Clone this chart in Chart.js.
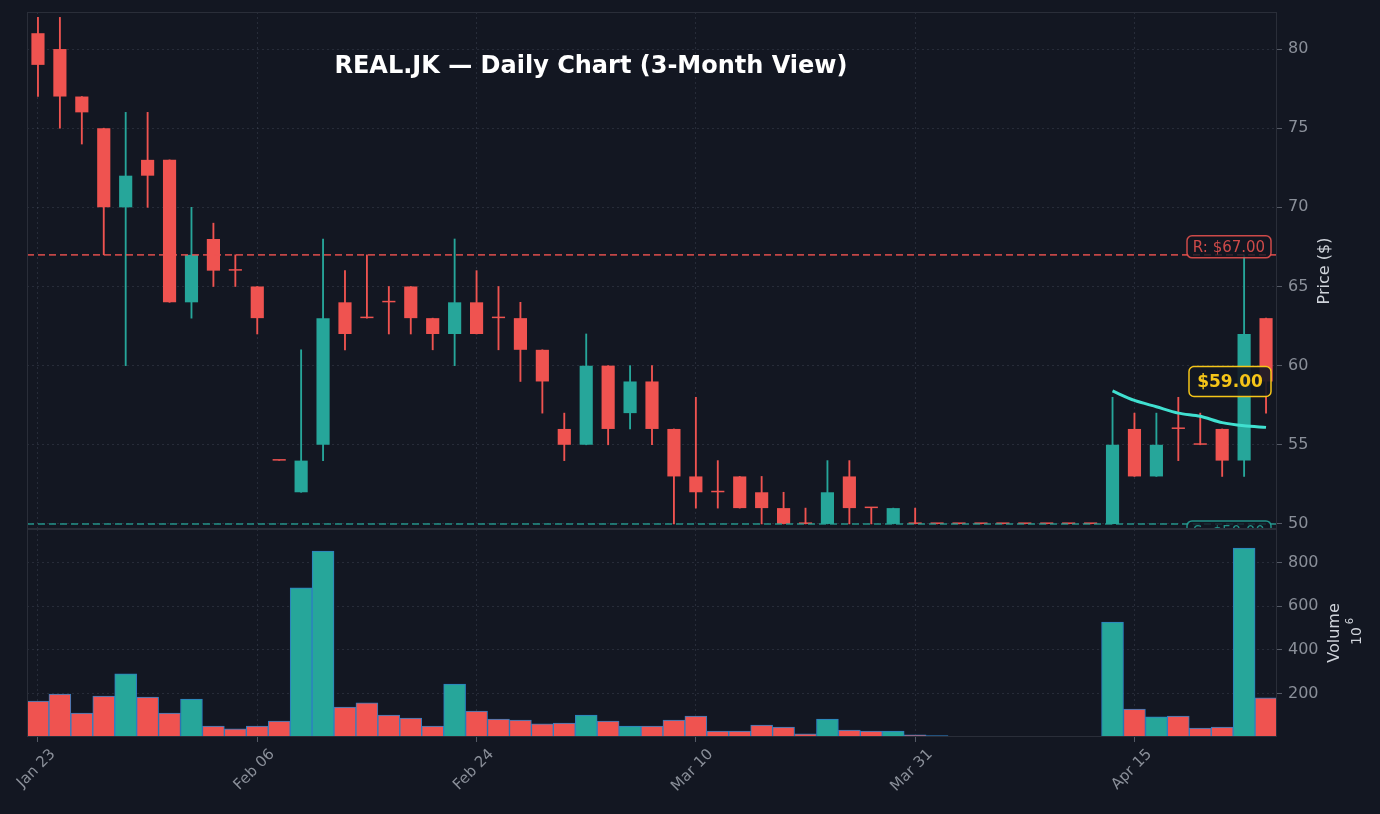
<!DOCTYPE html>
<html>
<head>
<meta charset="utf-8">
<script src="https://cdn.jsdelivr.net/npm/chart.js@4"></script>
<style>
  html, body { margin: 0; padding: 0; background: #131722; }
  #wrap { width: 1380px; height: 814px; position: relative; }
  #priceBox { position: absolute; left: 0; top: 0; width: 1380px; height: 529px; }
  #volBox { position: absolute; left: 0; top: 529px; width: 1380px; height: 285px; }
</style>
</head>
<body>
<div id="wrap">
  <div id="priceBox"><canvas id="priceCanvas"></canvas></div>
  <div id="volBox"><canvas id="volCanvas"></canvas></div>
</div>
<script>
// trading days
const dates = [
  'Jan 23', 'Jan 24', 'Jan 27', 'Jan 28', 'Jan 29', 'Jan 30', 'Jan 31', 'Feb 03', 'Feb 04', 'Feb 05',
  'Feb 06', 'Feb 07', 'Feb 10', 'Feb 11', 'Feb 12', 'Feb 13', 'Feb 14', 'Feb 17', 'Feb 18', 'Feb 21',
  'Feb 24', 'Feb 25', 'Feb 26', 'Feb 27', 'Feb 28', 'Mar 03', 'Mar 04', 'Mar 05', 'Mar 06', 'Mar 07',
  'Mar 10', 'Mar 11', 'Mar 12', 'Mar 13', 'Mar 14', 'Mar 17', 'Mar 18', 'Mar 19', 'Mar 20', 'Mar 27',
  'Mar 31', 'Apr 01', 'Apr 02', 'Apr 03', 'Apr 04', 'Apr 07', 'Apr 08', 'Apr 09', 'Apr 10', 'Apr 11',
  'Apr 15', 'Apr 16', 'Apr 17', 'Apr 18', 'Apr 21', 'Apr 22', 'Apr 23'
];
const opens  = [81, 80, 77, 75, 70, 73, 73, 64, 68, 66, 65, 54, 52, 55, 64, 63, 64, 65, 63, 62,
                64, 63, 63, 61, 56, 55, 60, 57, 59, 56, 53, 52, 53, 52, 51, 50, 50, 53, 51, 50,
                50, 50, 50, 50, 50, 50, 50, 50, 50, 50, 56, 53, 56, 55, 56, 54, 63];
const highs  = [82, 82, 77, 75, 76, 76, 73, 70, 69, 67, 65, 54, 61, 68, 66, 67, 65, 65, 63, 68,
                66, 65, 64, 61, 57, 62, 60, 60, 60, 56, 58, 54, 53, 53, 52, 51, 54, 54, 51, 51,
                51, 50, 50, 50, 50, 50, 50, 50, 50, 58, 57, 57, 58, 57, 56, 67, 63];
const lows   = [77, 75, 74, 67, 60, 70, 64, 63, 65, 65, 62, 54, 52, 54, 61, 63, 62, 62, 61, 60,
                62, 61, 59, 57, 54, 55, 55, 56, 55, 50, 51, 51, 51, 50, 50, 50, 50, 50, 50, 50,
                50, 50, 50, 50, 50, 50, 50, 50, 50, 50, 53, 53, 54, 55, 53, 53, 57];
const closes = [79, 77, 76, 70, 72, 72, 64, 67, 66, 66, 63, 54, 54, 63, 62, 63, 64, 63, 62, 64,
                62, 63, 61, 59, 55, 60, 56, 59, 56, 53, 52, 52, 51, 51, 50, 50, 52, 51, 51, 51,
                50, 50, 50, 50, 50, 50, 50, 50, 50, 55, 53, 55, 56, 55, 54, 62, 59];
// volume in millions
const volumes = [165, 197, 110, 188, 289, 183, 110, 174, 50, 37, 50, 73, 683, 852, 137, 156, 101, 87, 50, 243,
                 119, 82, 78, 60, 64, 101, 73, 50, 50, 78, 96, 27, 27, 55, 46, 14, 82, 32, 27, 27,
                 10, 6, 3, 1, 1, 1, 1, 1, 1, 527, 128, 92, 96, 41, 46, 866, 179];
// short moving average, only last days
const maValues = [null, null, null, null, null, null, null, null, null, null,
                  null, null, null, null, null, null, null, null, null, null,
                  null, null, null, null, null, null, null, null, null, null,
                  null, null, null, null, null, null, null, null, null, null,
                  null, null, null, null, null, null, null, null, null, 58.4,
                  57.8, 57.4, 57.0, 56.8, 56.4, 56.2, 56.1];
const resistance = 67;
const support = 50;
const lastPrice = 59;

const UP = '#26a69a';
const DOWN = '#ef5350';
const GRID = 'rgba(120,130,150,0.2)';
const TICK = '#8a8f99';
const AXIS_W = 103;

const bodyColor = closes.map((c, i) => c > opens[i] ? UP : DOWN);

const fixY = (ax) => { ax.width = AXIS_W; ax.paddingTop = 0; ax.paddingBottom = 0; };

function rotText(c, txt, x, y, font, color, align) {
  c.save();
  c.fillStyle = color || '#cfd3da';
  c.font = font;
  c.translate(x, y);
  c.rotate(-Math.PI / 2);
  c.textAlign = align || 'center'; c.textBaseline = 'middle';
  c.fillText(txt, 0, 0);
  c.restore();
}

const overlay = {
  id: 'overlay',
  afterDatasetsDraw(chart) {
    const c = chart.ctx, a = chart.chartArea, y = chart.scales.y;
    c.save();
    c.beginPath();
    c.rect(a.left, a.top, a.right - a.left, a.bottom - a.top);
    c.clip();
    c.setLineDash([7, 4]);
    c.lineWidth = 1.6;
    c.strokeStyle = 'rgba(239,83,80,0.8)';
    c.beginPath(); c.moveTo(a.left, y.getPixelForValue(resistance)); c.lineTo(a.right, y.getPixelForValue(resistance)); c.stroke();
    c.strokeStyle = 'rgba(38,166,154,0.85)';
    c.beginPath(); c.moveTo(a.left, y.getPixelForValue(support)); c.lineTo(a.right, y.getPixelForValue(support)); c.stroke();
    c.setLineDash([]);

    const box = (txt, cy, col, fill, font, w, h) => {
      c.font = font;
      const x = a.right - 6 - w;
      c.beginPath();
      c.roundRect(x, cy - h / 2, w, h, 5);
      c.fillStyle = fill; c.fill();
      c.lineWidth = 1.5; c.strokeStyle = col; c.stroke();
      c.fillStyle = col; c.textAlign = 'center'; c.textBaseline = 'middle';
      c.fillText(txt, x + w / 2, cy + 1);
    };
    box('R: $' + resistance.toFixed(2), y.getPixelForValue(resistance) - 8, 'rgba(239,83,80,0.85)', 'rgba(19,23,34,0.8)', '15px "DejaVu Sans"', 84, 22);
    box('S: $' + support.toFixed(2), y.getPixelForValue(support) + 8, 'rgba(38,166,154,0.85)', 'rgba(19,23,34,0.8)', '15px "DejaVu Sans"', 84, 22);
    box('$' + lastPrice.toFixed(2), y.getPixelForValue(lastPrice), '#f5c518', 'rgba(19,23,34,0.9)', 'bold 17px "DejaVu Sans"', 82, 30);
    c.restore();

    c.save();
    c.font = 'bold 24px "DejaVu Sans"';
    c.fillStyle = '#ffffff';
    c.textAlign = 'center'; c.textBaseline = 'middle';
    c.fillText('REAL.JK \u2014 Daily Chart (3-Month View)', 591, 67);
    c.restore();
  },
  afterDraw(chart) {
    rotText(chart.ctx, 'Price ($)', 1325, 271, '16px "DejaVu Sans"');
  }
};

const frame = {
  id: 'frame',
  beforeDraw(chart) {
    const c = chart.ctx;
    c.save();
    c.fillStyle = '#131722';
    c.fillRect(0, 0, chart.width, chart.height);
    c.restore();
  },
  afterDraw(chart) {
    const c = chart.ctx, a = chart.chartArea;
    c.save();
    c.strokeStyle = '#2a2e39'; c.lineWidth = 1;
    c.strokeRect(a.left + 0.5, a.top + 0.5, a.right - a.left - 1, a.bottom - a.top - 1);
    c.restore();
  }
};

const volLabel = {
  id: 'volLabel',
  afterDraw(chart) {
    const c = chart.ctx, a = chart.chartArea, x = chart.scales.x;
    rotText(c, 'Volume', 1335, (a.top + a.bottom) / 2, '16px "DejaVu Sans"');
    rotText(c, '10', 1357, 107, '14px "DejaVu Sans"');
    rotText(c, '6', 1350, 92, '10px "DejaVu Sans"');
    // rotated date labels, right end at the tick
    c.save();
    c.fillStyle = TICK;
    c.font = '15px "DejaVu Sans"';
    c.textAlign = 'right'; c.textBaseline = 'middle';
    dates.forEach((d, i) => {
      if (i % 10 !== 0) return;
      c.save();
      c.translate(x.getPixelForValue(i) + 15, a.bottom + 15);
      c.rotate(-Math.PI / 4);
      c.fillText(d, 0, 0);
      c.restore();
    });
    c.restore();
  }
};

const gridX = {
  offset: false,
  color: (ctx) => ctx.index % 10 === 0 ? GRID : 'transparent',
  tickColor: (ctx) => ctx.index % 10 === 0 ? '#555a66' : 'transparent',
  tickLength: 5
};
const gridY = { color: GRID, tickColor: '#555a66', tickLength: 5 };
const dashed = { display: false, dash: [2, 3] };

new Chart(document.getElementById('priceCanvas'), {
  type: 'bar',
  data: {
    labels: dates,
    datasets: [
      {
        type: 'line', data: maValues, borderColor: '#40e0d0', borderWidth: 3,
        pointRadius: 0, tension: 0.3, spanGaps: false, order: 0
      },
      {
        data: opens.map((o, i) => [lows[i], highs[i]]),
        backgroundColor: bodyColor, borderWidth: 0,
        barThickness: 1.2, grouped: false, order: 2
      },
      {
        data: opens.map((o, i) => [o, closes[i]]),
        backgroundColor: bodyColor, borderWidth: 0,
        barPercentage: 0.6, categoryPercentage: 1, minBarLength: 1.5, grouped: false, order: 1
      }
    ]
  },
  options: {
    responsive: true, maintainAspectRatio: false, animation: false,
    layout: { padding: { left: 27, top: 12, right: 0, bottom: 0 } },
    plugins: { legend: { display: false }, tooltip: { enabled: false } },
    scales: {
      x: {
        offset: true,
        ticks: { display: false, autoSkip: false, padding: 0 },
        grid: { ...gridX, drawTicks: false },
        border: dashed,
        afterFit: (ax) => { ax.height = 0; ax.paddingLeft = 0; ax.paddingRight = 0; }
      },
      y: {
        position: 'right', min: 49.68, max: 82.34,
        afterBuildTicks: (ax) => { ax.ticks = [50, 55, 60, 65, 70, 75, 80].map(v => ({ value: v })); },
        ticks: { color: TICK, font: { size: 16, family: 'DejaVu Sans' }, padding: 6 },
        grid: gridY,
        border: dashed,
        afterFit: fixY
      }
    }
  },
  plugins: [frame, overlay]
});

new Chart(document.getElementById('volCanvas'), {
  type: 'bar',
  data: {
    labels: dates,
    datasets: [{
      data: volumes,
      backgroundColor: bodyColor, borderColor: '#2e7fc4', borderWidth: 1,
      barPercentage: 1, categoryPercentage: 1
    }]
  },
  options: {
    responsive: true, maintainAspectRatio: false, animation: false,
    layout: { padding: { left: 27, top: 0, right: 0, bottom: 0 } },
    plugins: { legend: { display: false }, tooltip: { enabled: false } },
    scales: {
      x: {
        offset: true,
        ticks: { display: false, autoSkip: false },
        grid: gridX,
        border: dashed,
        afterFit: (ax) => { ax.height = 77; ax.paddingLeft = 0; ax.paddingRight = 0; }
      },
      y: {
        position: 'right', min: 0, max: 953,
        afterBuildTicks: (ax) => { ax.ticks = [200, 400, 600, 800].map(v => ({ value: v })); },
        ticks: { color: TICK, font: { size: 16, family: 'DejaVu Sans' }, padding: 6 },
        grid: gridY,
        border: dashed,
        afterFit: fixY
      }
    }
  },
  plugins: [frame, volLabel]
});
</script>
</body>
</html>
